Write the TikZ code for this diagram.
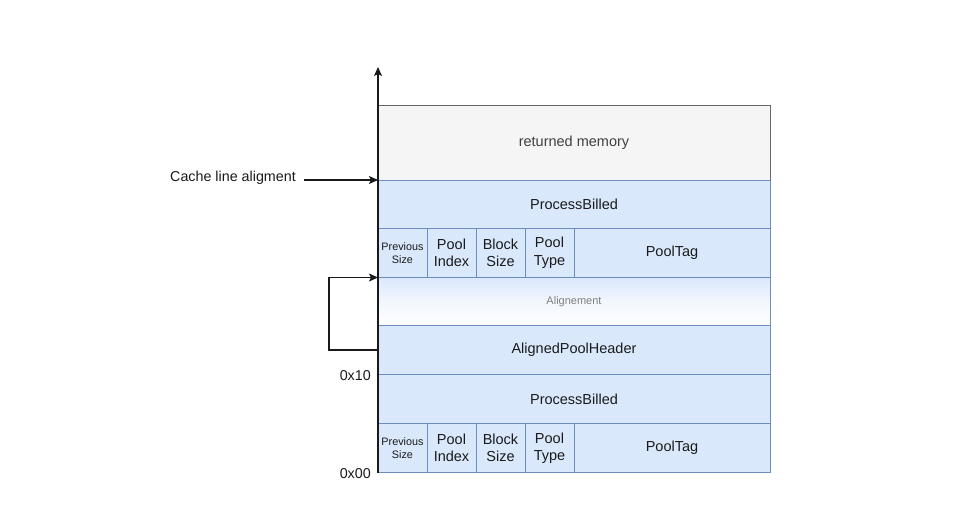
\documentclass[tikz,border=0pt]{standalone}
\usepackage{fontspec}
\setmainfont{Liberation Sans}
\usetikzlibrary{arrows.meta}
\usetikzlibrary{positioning}
\definecolor{cellfill}{HTML}{DAE8FC}
\definecolor{cellline}{HTML}{6C8EBF}
\definecolor{memfill}{HTML}{F5F5F5}
\definecolor{memline}{HTML}{666666}
\definecolor{txt}{HTML}{1A1A1A}
\begin{document}
\begin{tikzpicture}[x=1pt, y=-1pt, >={Stealth[length=9pt, width=8pt, inset=2pt]},
    cell/.style = {draw=cellline, fill=cellfill, line width=1pt, inner sep=0pt, outer sep=0pt,
        minimum width=392pt, minimum height=49pt, align=center, text=txt,
        font=\fontsize{14.5}{17.5}\selectfont},
    field/.style = {cell, minimum width=49pt},
    tiny/.style = {font=\fontsize{10.8}{13}\selectfont},
    lbl/.style = {inner sep=0pt, text=txt, font=\fontsize{14.3}{17}\selectfont},
    conn/.style = {->, line width=1.2pt, black!90}]
    \useasboundingbox (0,0) rectangle (959,511);
    % Rows
    \node[cell, draw=memline, fill=memfill, minimum height=75pt, text=black!75] (mem) at (574, 142.5) {returned memory};
    \node[cell, minimum height=48pt] (pb1) at (574, 204) {ProcessBilled};
    \node[field, tiny] (prev1) at (402.5, 253) {Previous\\Size};
    \node[field] (idx1) at (451.5, 253) {Pool\\Index};
    \node[field] (bsz1) at (500.5, 253) {Block\\Size};
    \node[field] (typ1) at (549.5, 253) {Pool\\Type};
    \node[field, minimum width=196pt] (tag1) at (672, 253) {PoolTag};
    \node[cell, minimum height=48pt, top color=cellfill, bottom color=white, middle color=cellfill!35,
        text=black!50, font=\fontsize{11}{13}\selectfont] (align) at (574, 301.5) {Alignement};
    \node[cell] (aph) at (574, 350) {AlignedPoolHeader};
    \node[cell] (pb2) at (574, 399) {ProcessBilled};
    \node[field, tiny] (prev2) at (402.5, 448) {Previous\\Size};
    \node[field] (idx2) at (451.5, 448) {Pool\\Index};
    \node[field] (bsz2) at (500.5, 448) {Block\\Size};
    \node[field] (typ2) at (549.5, 448) {Pool\\Type};
    \node[field, minimum width=196pt] (tag2) at (672, 448) {PoolTag};

    % Labels
    \node[lbl, anchor=east] (cache) at (296, 177.5) {Cache line aligment};
    \node[lbl, left=7pt of pb2.north west, yshift=-1.5pt] (off10) {0x10};
    \node[lbl, left=7pt of prev2.south west, yshift=-1.5pt] (off00) {0x00};

    % Arrows
    \coordinate (axistop) at (378, 67);
    \coordinate (cachestart) at (304, 180);
    \draw[conn] (prev2.south west) -- (axistop);
    \draw[conn] (cachestart) -- (pb1.north west);
    \draw[conn] (aph.west) -- ++(-49, 0) |- (align.north west);
\end{tikzpicture}
\end{document}
